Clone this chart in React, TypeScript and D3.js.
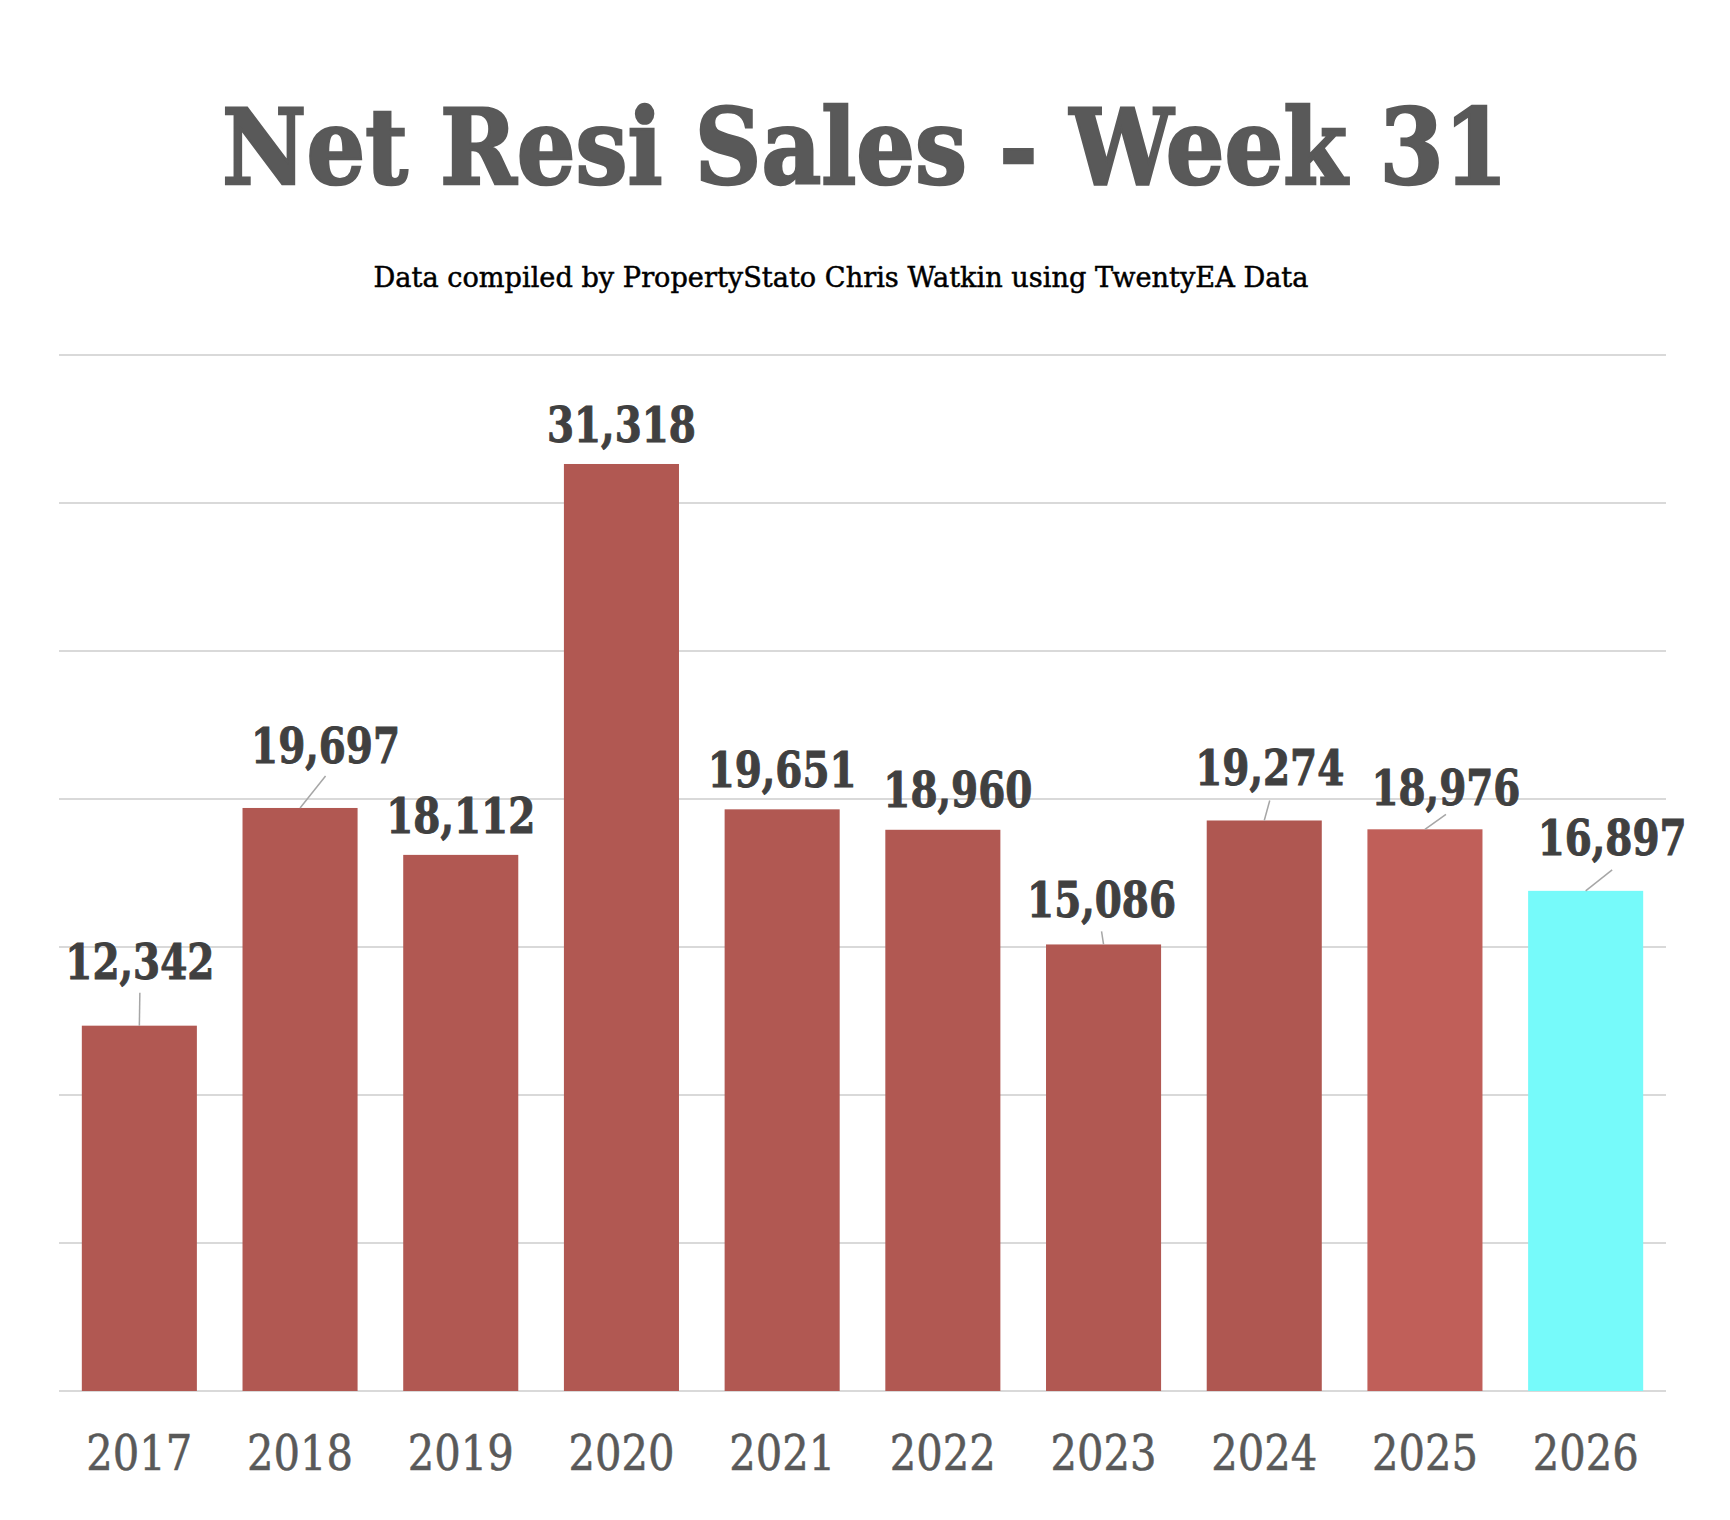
import * as d3 from "d3";

const years = ["2017", "2018", "2019", "2020", "2021", "2022", "2023", "2024", "2025", "2026"];
const sales = [12342, 19697, 18112, 31318, 19651, 18960, 15086, 19274, 18976, 16897];
const gridValues = [0, 5000, 10000, 15000, 20000, 25000, 30000, 35000];

const barColors = [
  "#B15852", "#B15852", "#B15852", "#B15852", "#B15852",
  "#B15852", "#B15852", "#AF5751", "#C05F59", "#76FAFA",
];

// manual label placement (px): dx from bar centre, dy of baseline above bar top,
// leader = whether a callout line is drawn, ly = leader end below label baseline
const labelLayout = [
  { dx: 0.5, dy: -47, leader: true, ly: 14 },
  { dx: 25.5, dy: -45, leader: true, ly: 13 },
  { dx: 0, dy: -22, leader: false, ly: 0 },
  { dx: 0, dy: -22, leader: false, ly: 0 },
  { dx: 0, dy: -22, leader: false, ly: 0 },
  { dx: 15, dy: -23, leader: false, ly: 0 },
  { dx: -2, dy: -27, leader: true, ly: 14 },
  { dx: 5.5, dy: -35, leader: true, ly: 15 },
  { dx: 21, dy: -24, leader: true, ly: 9 },
  { dx: 26.5, dy: -36, leader: true, ly: 15 },
];

const W = 1730;
const H = 1520;
const left = 59;
const right = 1666;
const bottom = 1391;
const top = 355;

const fmt = d3.format(",");

export default function App() {
  const x = d3
    .scaleBand<string>()
    .domain(years)
    .range([left, right])
    .paddingInner(0.284)
    .paddingOuter(0.142);

  const y = d3.scaleLinear().domain([0, 35000]).range([bottom, top]);

  const serif = "'DejaVu Serif', 'Liberation Serif', serif";

  return (
    <div style={{ position: "absolute", left: 0, top: 0, background: "#fff" }}>
      <svg width={W} height={H} viewBox={`0 0 ${W} ${H}`}>
        <rect width={W} height={H} fill="#fff" />

        <text
          x={865}
          y={184}
          textAnchor="middle"
          fontFamily={serif}
          fontWeight="bold"
          fontSize={104}
          fill="#595959"
          stroke="#595959"
          strokeWidth={2.5}
          textLength={1286}
          lengthAdjust="spacingAndGlyphs"
        >
          Net Resi Sales - Week 31
        </text>
        <text
          x={841}
          y={287}
          textAnchor="middle"
          fontFamily={serif}
          fontSize={27}
          fill="#000"
          stroke="#000"
          strokeWidth={0.5}
          textLength={935}
          lengthAdjust="spacingAndGlyphs"
        >
          Data compiled by PropertyStato Chris Watkin using TwentyEA Data
        </text>

        {/* gridlines */}
        {gridValues.map((v) => (
          <line
            key={v}
            x1={left}
            x2={right}
            y1={y(v)}
            y2={y(v)}
            stroke="#d9d9d9"
            strokeWidth={2}
          />
        ))}

        {/* bars */}
        {years.map((yr, i) => (
          <rect
            key={yr}
            x={x(yr)}
            y={y(sales[i])}
            width={x.bandwidth()}
            height={bottom - y(sales[i])}
            fill={barColors[i]}
          />
        ))}

        {/* leader lines + value labels */}
        {years.map((yr, i) => {
          const cx = (x(yr) ?? 0) + x.bandwidth() / 2;
          const ty = y(sales[i]);
          const L = labelLayout[i];
          const lx = cx + L.dx;
          const ly = ty + L.dy;
          return (
            <g key={yr}>
              {L.leader && (
                <line
                  x1={cx}
                  y1={ty}
                  x2={lx}
                  y2={ly + L.ly}
                  stroke="#a6a6a6"
                  strokeWidth={1.5}
                />
              )}
              <text
                x={lx}
                y={ly}
                textAnchor="middle"
                fontFamily={serif}
                fontWeight="bold"
                fontSize={49}
                fill="#404040"
                stroke="#404040"
                strokeWidth={1}
                textLength={149}
                lengthAdjust="spacingAndGlyphs"
              >
                {fmt(sales[i])}
              </text>
            </g>
          );
        })}

        {/* category labels */}
        {years.map((yr) => (
          <text
            key={yr}
            x={(x(yr) ?? 0) + x.bandwidth() / 2}
            y={1470}
            textAnchor="middle"
            fontFamily={serif}
            fontSize={48}
            fill="#595959"
            stroke="#595959"
            strokeWidth={0.6}
            textLength={106}
            lengthAdjust="spacingAndGlyphs"
          >
            {yr}
          </text>
        ))}
      </svg>
    </div>
  );
}
